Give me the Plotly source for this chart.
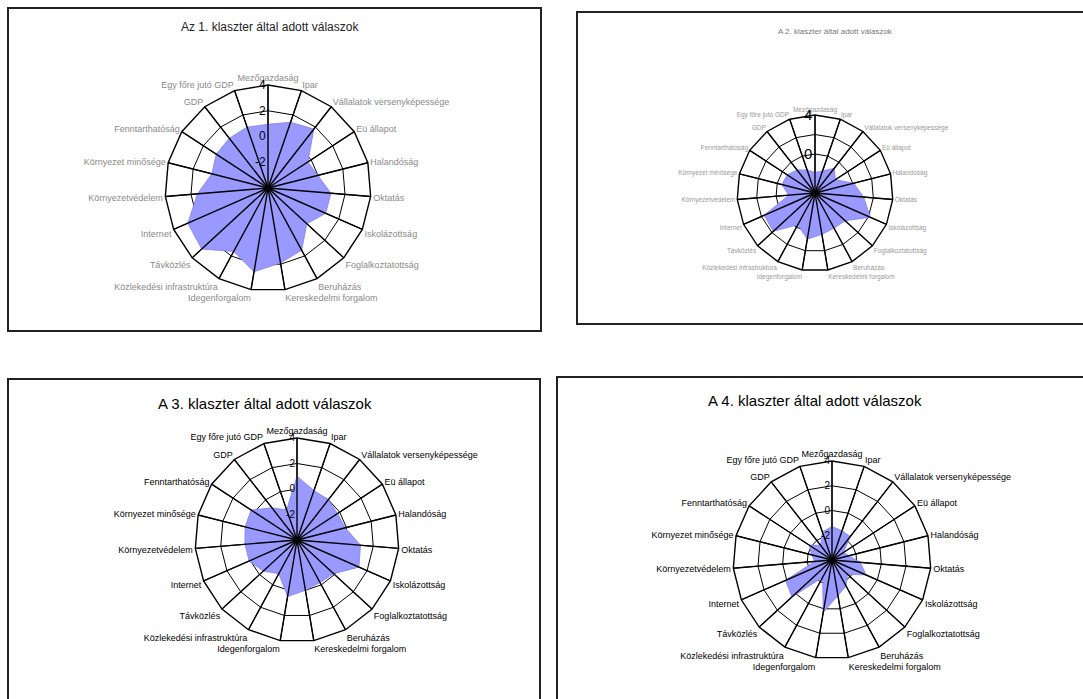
import plotly.graph_objects as go

W, H = 1083, 699

categories = ["Mezőgazdaság", "Ipar", "Vállalatok versenyképessége", "Eü állapot",
              "Halandóság", "Oktatás", "Iskolázottság", "Foglalkoztatottság",
              "Beruházás", "Kereskedelmi forgalom", "Idegenforgalom",
              "Közlekedési infrastruktúra", "Távközlés", "Internet",
              "Környezetvédelem", "Környezet minősége", "Fenntarthatóság",
              "GDP", "Egy főre jutó GDP"]

titles = ["Az 1. klaszter által adott válaszok",
          "A 2. klaszter által adott válaszok",
          "A 3. klaszter által adott válaszok",
          "A 4. klaszter által adott válaszok"]

cluster1 = [0.95, 1.4, 1.8, -0.3, 0.0, 0.9, 0.9, 0.1, 1.5, 1.9, 2.6, 1.6, 3.0, 2.8, 1.5, 0.5, 0.8, 0.9, 1.0]
cluster2 = [-1.9, -1.6, -0.8, -1.5, 0.1, 1.0, 2.2, 0.2, 0.1, 0.3, 0.8, -0.3, 1.8, 1.7, -1.3, -0.5, -0.6, -1.0, -1.5]
cluster3 = [1.0, 0.1, 0.0, -0.2, -0.1, 1.0, 1.3, -0.1, -0.2, 0.0, 0.5, -1.0, -0.4, 0.1, 0.1, 0.2, 0.3, -0.8, -1.5]
cluster4 = [-1.3, -1.5, -1.6, -2.9, -2.6, -1.7, -1.0, -2.3, -1.6, -1.1, 0.3, -2.4, 0.4, 0.1, -2.6, -2.3, -1.8, -2.5, -1.6]

radial_ticks = [-2, 0, 2, 4]
radial_ticktext_full = ["-2", "0", "2", "4"]
radial_ticktext_sparse = ["", "0", "", "4"]
radial_range = [-4, 4]

series = [cluster1, cluster2, cluster3, cluster4]

# layout of the four panels (pixels)
panels = [
    dict(cx=268, cy=188, R=103, box=(8, 8, 541, 331), title_xy=(270, 27), title_size=12,
         title_color="#222", lab_size=9, lab_color="#8a8a8a", tick_size=12,
         ticktext=radial_ticktext_full),
    dict(cx=815, cy=193, R=78, box=(577, 12, 1090, 324), title_xy=(835, 31), title_size=8,
         title_color="#777", lab_size=6.5, lab_color="#9a9a9a", tick_size=15,
         ticktext=radial_ticktext_sparse),
    dict(cx=297, cy=540, R=102, box=(8, 379, 540, 705), title_xy=(265, 403), title_size=15,
         title_color="#000", lab_size=9, lab_color="#000", tick_size=10,
         ticktext=radial_ticktext_full),
    dict(cx=832, cy=560, R=99, box=(557, 377, 1090, 705), title_xy=(815, 400), title_size=15,
         title_color="#000", lab_size=9, lab_color="#000", tick_size=10,
         ticktext=radial_ticktext_full),
]

fig = go.Figure()
layout = dict(width=W, height=H, margin=dict(l=0, r=0, t=0, b=0),
              paper_bgcolor="white", plot_bgcolor="white", showlegend=False,
              shapes=[], annotations=[])

for i, (vals, p) in enumerate(zip(series, panels)):
    name = "polar" if i == 0 else f"polar{i+1}"
    sub = name
    fig.add_trace(go.Scatterpolar(
        r=vals + [vals[0]], theta=categories + [categories[0]],
        mode="lines", fill="toself", fillcolor="#9999FF",
        line=dict(color="#8080EE", width=0.8), subplot=sub, hoverinfo="skip"))
    # spokes on top of fill
    sr, st = [], []
    for c in categories:
        sr += [radial_range[0], radial_range[1], None]
        st += [c, c, None]
    fig.add_trace(go.Scatterpolar(r=sr, theta=st, mode="lines",
                                  line=dict(color="black", width=1.4),
                                  subplot=sub, hoverinfo="skip", connectgaps=False))
    cx, cy, R = p["cx"], p["cy"], p["R"]
    layout[name] = dict(
        domain=dict(x=[(cx - R) / W, (cx + R) / W], y=[1 - (cy + R) / H, 1 - (cy - R) / H]),
        bgcolor="white",
        gridshape="linear",
        angularaxis=dict(direction="clockwise", rotation=90, type="category",
                         categoryarray=categories, categoryorder="array",
                         showline=True, linecolor="black", linewidth=1.4,
                         gridcolor="black", gridwidth=1.4, ticks="",
                         tickfont=dict(family="Liberation Sans, Arial", size=p["lab_size"],
                                       color=p["lab_color"])),
        radialaxis=dict(range=radial_range, tickvals=radial_ticks,
                        ticktext=p["ticktext"],
                        showline=False, gridcolor="black", gridwidth=1.4,
                        angle=96, tickangle=90, side="counterclockwise", ticks="",
                        tickfont=dict(family="Liberation Sans, Arial", size=p["tick_size"],
                                      color="black")),
    )
    x0, y0, x1, y1 = p["box"]
    layout["shapes"].append(dict(type="rect", xref="paper", yref="paper",
                                 x0=x0 / W, x1=x1 / W, y0=1 - y0 / H, y1=1 - y1 / H,
                                 line=dict(color="#222", width=2), fillcolor="rgba(0,0,0,0)",
                                 layer="below"))
    tx, ty = p["title_xy"]
    layout["annotations"].append(dict(text=titles[i], x=tx / W, y=1 - ty / H,
                                      xref="paper", yref="paper", showarrow=False,
                                      xanchor="center", yanchor="middle",
                                      font=dict(family="Liberation Sans, Arial",
                                                size=p["title_size"], color=p["title_color"])))

fig.update_layout(**layout)
fig.write_html("out.html", config={"displayModeBar": False},
               post_script="document.body.style.margin='0';document.body.style.overflow='hidden';")
